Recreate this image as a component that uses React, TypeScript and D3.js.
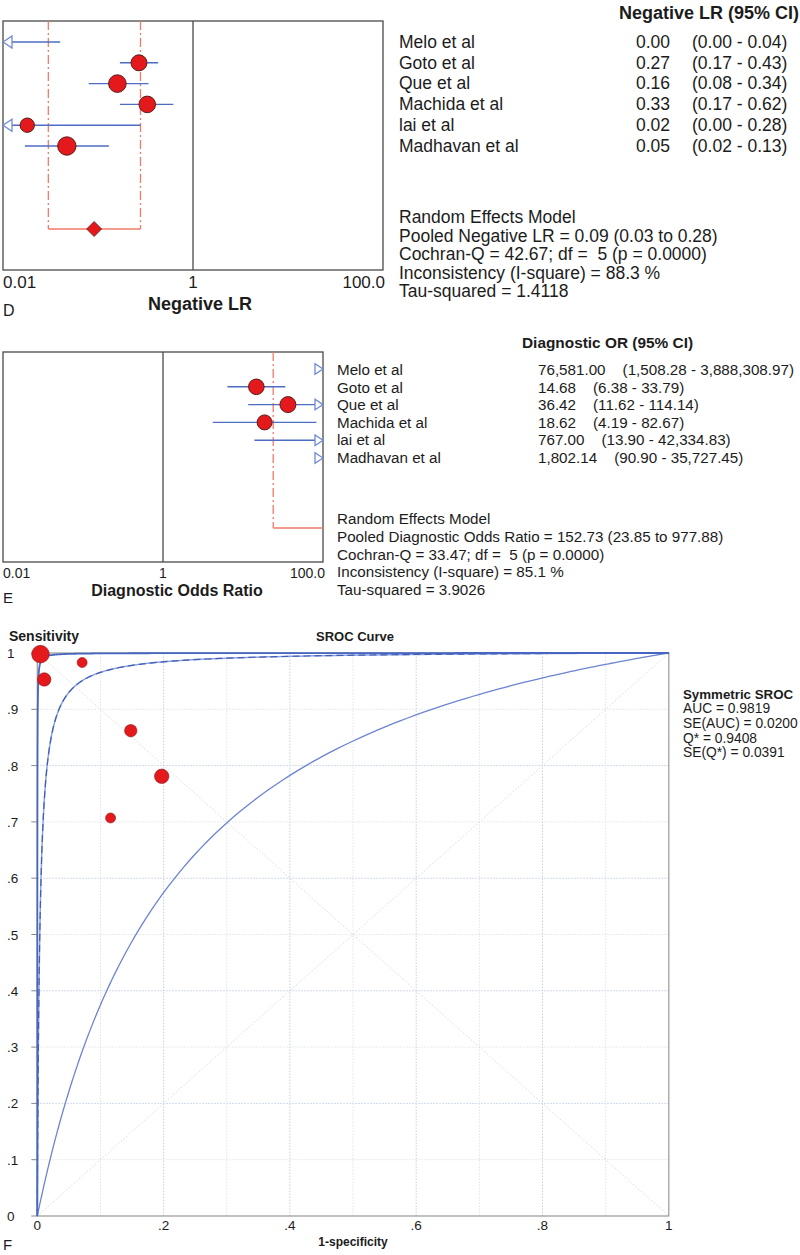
import React from "react";
import * as d3 from "d3";

// ---------- data ----------
const studies = ["Melo et al", "Goto et al", "Que et al", "Machida et al", "lai et al", "Madhavan et al"];

// Panel D: negative likelihood ratio
const nlrEst = [0.0, 0.27, 0.16, 0.33, 0.018, 0.047];
const nlrLo = [0.0, 0.17, 0.08, 0.17, 0.0, 0.017];
const nlrHi = [0.04, 0.43, 0.34, 0.62, 0.28, 0.13];
const nlrRadius = [0, 8, 8.8, 8.3, 7.2, 9.2];
const nlrValText = ["0.00", "0.27", "0.16", "0.33", "0.02", "0.05"];
const nlrCIText = ["(0.00 - 0.04)", "(0.17 - 0.43)", "(0.08 - 0.34)", "(0.17 - 0.62)", "(0.00 - 0.28)", "(0.02 - 0.13)"];
const nlrPooled = [0.091, 0.03, 0.28];
const nlrStats = [
  "Random Effects Model",
  "Pooled Negative LR = 0.09 (0.03 to 0.28)",
  "Cochran-Q = 42.67; df =  5 (p = 0.0000)",
  "Inconsistency (I-square) = 88.3 %",
  "Tau-squared = 1.4118",
];

// Panel E: diagnostic odds ratio
const dorEst = [76581.0, 14.68, 36.42, 18.62, 767.0, 1802.14];
const dorLo = [1508.28, 6.38, 11.62, 4.19, 13.9, 90.9];
const dorHi = [3888308.97, 33.79, 114.14, 82.67, 42334.83, 35727.45];
const dorRadius = [7.8, 7.8, 8, 7.5, 7.5, 7.5];
const dorValText = ["76,581.00", "14.68", "36.42", "18.62", "767.00", "1,802.14"];
const dorCIText = ["(1,508.28 - 3,888,308.97)", "(6.38 - 33.79)", "(11.62 - 114.14)", "(4.19 - 82.67)", "(13.90 - 42,334.83)", "(90.90 - 35,727.45)"];
const dorPooled = [152.73, 23.85, 977.88];
const dorStats = [
  "Random Effects Model",
  "Pooled Diagnostic Odds Ratio = 152.73 (23.85 to 977.88)",
  "Cochran-Q = 33.47; df =  5 (p = 0.0000)",
  "Inconsistency (I-square) = 85.1 %",
  "Tau-squared = 3.9026",
];

const logTicks = [0.01, 1, 100];
const logTickText = ["0.01", "1", "100.0"];

// Panel F: SROC
const srocFpr = [0.005, 0.011, 0.071, 0.148, 0.197, 0.116];
const srocTpr = [0.998, 0.953, 0.983, 0.862, 0.781, 0.707];
const srocRadius = [8.8, 6.7, 5, 6.2, 7.2, 5];
const srocQstar = 0.9408;
const srocLowerDOR = 5.4;
const srocUpperDOR = 11800;
const srocTicksY = [0, 0.1, 0.2, 0.3, 0.4, 0.5, 0.6, 0.7, 0.8, 0.9, 1];
const srocTickYText = ["0", ".1", ".2", ".3", ".4", ".5", ".6", ".7", ".8", ".9", "1"];
const srocTicksX = [0, 0.2, 0.4, 0.6, 0.8, 1];
const srocTickXText = ["0", ".2", ".4", ".6", ".8", "1"];
const srocStats = ["AUC = 0.9819", "SE(AUC) = 0.0200", "Q* = 0.9408", "SE(Q*) = 0.0391"];

// ---------- styles ----------
const FONT = "'Liberation Sans', Arial, Helvetica, sans-serif";
const TXT = "#1c1c1c";
const RED = "#e3191c";
const DOTSTROKE = "#5a1e1e";
const BLUE = "#4d6cc4";
const ARROW = "#6f8ad6";
const SALMON = "#f27a68";

type ForestProps = {
  x: d3.ScaleLogarithmic<number, number>;
  rowY: (i: number) => number;
  est: number[];
  lo: number[];
  hi: number[];
  radius: number[];
  arrowLen: number;
  arrowHalf: number;
};

function ForestRows({ x, rowY, est, lo, hi, radius, arrowLen, arrowHalf }: ForestProps) {
  const [dMin, dMax] = x.domain();
  const [r0, r1] = x.range();
  return (
    <g>
      {studies.map((s, i) => {
        const y = rowY(i);
        const leftOut = lo[i] < dMin;
        const rightOut = hi[i] > dMax;
        const xa = leftOut ? r0 + arrowLen : x(Math.min(Math.max(lo[i], dMin), dMax));
        const xb = rightOut ? r1 - arrowLen : x(Math.max(Math.min(hi[i], dMax), dMin));
        const showLine = xb > xa && !(lo[i] > dMax) && !(hi[i] < dMin);
        const showDot = est[i] >= dMin && est[i] <= dMax;
        return (
          <g key={s}>
            {showLine && <line x1={xa} x2={xb} y1={y} y2={y} stroke={BLUE} strokeWidth={1.4} />}
            {leftOut && (
              <path
                d={`M${r0},${y} L${r0 + arrowLen},${y - arrowHalf} L${r0 + arrowLen},${y + arrowHalf} Z`}
                fill="white"
                stroke={ARROW}
                strokeWidth={1.3}
              />
            )}
            {rightOut && (
              <path
                d={`M${r1},${y} L${r1 - arrowLen},${y - arrowHalf} L${r1 - arrowLen},${y + arrowHalf} Z`}
                fill="white"
                stroke={ARROW}
                strokeWidth={1.3}
              />
            )}
            {showDot && <circle cx={x(est[i])} cy={y} r={radius[i]} fill={RED} stroke={DOTSTROKE} strokeWidth={1} />}
          </g>
        );
      })}
    </g>
  );
}

export default function App() {
  // ---- Panel D ----
  const xD = d3.scaleLog().domain([0.01, 100]).range([3, 383]);
  const yD = d3.scaleLinear().domain([0, 5]).range([42, 146]);
  const boxD = { top: 21, bottom: 270 };
  const pooledYD = 229;

  // ---- Panel E ----
  const xE = d3.scaleLog().domain([0.01, 100]).range([3, 323]);
  const yE = d3.scaleLinear().domain([0, 5]).range([369, 458]);
  const boxE = { top: 352, bottom: 562 };
  const pooledYE = 528;

  // ---- Panel F ----
  const xF = d3.scaleLinear().domain([0, 1]).range([37.3, 668.8]);
  const yF = d3.scaleLinear().domain([0, 1]).range([1216, 653]);
  const centralDOR = Math.pow(srocQstar / (1 - srocQstar), 2);
  const logitGrid = d3.range(-14, 14.001, 0.05);
  const curvePts = (dor: number): [number, number][] => {
    const pts: [number, number][] = [[0, 0]];
    for (const u of logitGrid) {
      const fpr = 1 / (1 + Math.exp(-u));
      const tpr = 1 / (1 + Math.exp(-(u + Math.log(dor))));
      pts.push([fpr, tpr]);
    }
    pts.push([1, 1]);
    return pts;
  };
  const line = d3
    .line<[number, number]>()
    .x((d) => xF(d[0]))
    .y((d) => yF(d[1]));
  const gridVals = d3.range(1, 10).map((v) => v / 10);

  const dText = (x: number, y: number, s: string, size: number, bold = false, anchor = "start") => (
    <text
      x={x}
      y={y}
      fontSize={size}
      fontWeight={bold ? "bold" : "normal"}
      textAnchor={anchor as any}
      fill={TXT}
      style={{ whiteSpace: "pre" }}
    >
      {s}
    </text>
  );

  return (
    <div style={{ position: "absolute", left: 0, top: 0 }}>
      <svg width={800} height={1255} fontFamily={FONT} style={{ display: "block", background: "white" }}>
        <rect x={0} y={0} width={800} height={1255} fill="white" />

        {/* ================= Panel D ================= */}
        <rect x={xD.range()[0]} y={boxD.top} width={xD.range()[1] - xD.range()[0]} height={boxD.bottom - boxD.top} fill="none" stroke="#4a4a4a" strokeWidth={1.3} />
        <line x1={xD(1)} x2={xD(1)} y1={boxD.top} y2={boxD.bottom} stroke="#4a4a4a" strokeWidth={1.3} />
        {[nlrPooled[1], nlrPooled[2]].map((v, k) => (
          <line key={k} x1={xD(v)} x2={xD(v)} y1={boxD.top} y2={pooledYD} stroke={SALMON} strokeWidth={1.3} strokeDasharray="9,3,2,3" />
        ))}
        <line x1={xD(nlrPooled[1])} x2={xD(nlrPooled[2])} y1={pooledYD} y2={pooledYD} stroke={SALMON} strokeWidth={1.4} />
        <path
          d={`M${xD(nlrPooled[0]) - 7.5},${pooledYD} L${xD(nlrPooled[0])},${pooledYD - 7.5} L${xD(nlrPooled[0]) + 7.5},${pooledYD} L${xD(nlrPooled[0])},${pooledYD + 7.5} Z`}
          fill={RED}
          stroke={DOTSTROKE}
          strokeWidth={0.8}
        />
        <ForestRows x={xD} rowY={yD} est={nlrEst} lo={nlrLo} hi={nlrHi} radius={nlrRadius} arrowLen={9} arrowHalf={6} />
        {logTicks.map((t, k) =>
          dText(k === 2 ? xD(t) + 2 : xD(t), 288, logTickText[k], 17, false, k === 0 ? "start" : k === 2 ? "end" : "middle")
        )}
        {dText(200, 310, "Negative LR", 18, true, "middle")}
        {dText(3, 316, "D", 16)}
        {dText(799, 19, "Negative LR (95% CI)", 18, true, "end")}
        {studies.map((s, i) => (
          <g key={"dt" + i}>
            {dText(399, 48 + i * 20.7, s, 17.5)}
            {dText(636, 48 + i * 20.7, nlrValText[i], 17.5)}
            {dText(692, 48 + i * 20.7, nlrCIText[i], 17.5)}
          </g>
        ))}
        {nlrStats.map((s, i) => (
          <g key={"ds" + i}>{dText(399, 223 + i * 18.6, s, 17.5)}</g>
        ))}

        {/* ================= Panel E ================= */}
        <rect x={xE.range()[0]} y={boxE.top} width={xE.range()[1] - xE.range()[0]} height={boxE.bottom - boxE.top} fill="none" stroke="#4a4a4a" strokeWidth={1.3} />
        <line x1={xE(1)} x2={xE(1)} y1={boxE.top} y2={boxE.bottom} stroke="#4a4a4a" strokeWidth={1.3} />
        <line x1={xE(dorPooled[1])} x2={xE(dorPooled[1])} y1={boxE.top} y2={pooledYE} stroke={SALMON} strokeWidth={1.3} strokeDasharray="9,3,2,3" />
        <line x1={xE(dorPooled[1])} x2={xE(Math.min(dorPooled[2], 100))} y1={pooledYE} y2={pooledYE} stroke={SALMON} strokeWidth={1.4} />
        <ForestRows x={xE} rowY={yE} est={dorEst} lo={dorLo} hi={dorHi} radius={dorRadius} arrowLen={8} arrowHalf={5.3} />
        {logTicks.map((t, k) =>
          dText(k === 2 ? xE(t) + 2 : xE(t), 578, logTickText[k], 14, false, k === 0 ? "start" : k === 2 ? "end" : "middle")
        )}
        {dText(177, 596, "Diagnostic Odds Ratio", 16, true, "middle")}
        {dText(3, 603, "E", 15)}
        {dText(522, 348, "Diagnostic OR (95% CI)", 15.4, true)}
        {studies.map((s, i) => (
          <g key={"et" + i}>
            {dText(337, 375 + i * 17.6, s, 15.2)}
            <text x={538} y={375 + i * 17.6} fontSize={15.2} fill={TXT}>
              <tspan>{dorValText[i]}</tspan>
              <tspan dx={17}>{dorCIText[i]}</tspan>
            </text>
          </g>
        ))}
        {dorStats.map((s, i) => (
          <g key={"es" + i}>{dText(337, 524 + i * 17.8, s, 15.2)}</g>
        ))}

        {/* ================= Panel F ================= */}
        {gridVals.map((v, k) => (
          <g key={"g" + k}>
            <line x1={xF(v)} x2={xF(v)} y1={yF(0)} y2={yF(1)} stroke={k % 2 === 1 ? "#c3cfe6" : "#e0e3ea"} strokeWidth={1} strokeDasharray="1.5,1.5" />
            <line x1={xF(0)} x2={xF(1)} y1={yF(v)} y2={yF(v)} stroke={k % 2 === 1 ? "#c3cfe6" : "#e0e3ea"} strokeWidth={1} strokeDasharray="1.5,1.5" />
          </g>
        ))}
        <line x1={xF(0)} y1={yF(0)} x2={xF(1)} y2={yF(1)} stroke="#dadada" strokeWidth={1} strokeDasharray="1.5,2" />
        <line x1={xF(0)} y1={yF(1)} x2={xF(1)} y2={yF(0)} stroke="#dadada" strokeWidth={1} strokeDasharray="1.5,2" />
        <rect x={xF(0)} y={yF(1)} width={xF(1) - xF(0)} height={yF(0) - yF(1)} fill="none" stroke="#a0a0a0" strokeWidth={1.3} />
        {srocTicksY.map((t, k) => (
          <g key={"ty" + k}>
            <line x1={xF(0) - 6} x2={xF(0)} y1={yF(t)} y2={yF(t)} stroke="#888" strokeWidth={1} />
            {dText(7, yF(t) + 5, srocTickYText[k], 13.5)}
          </g>
        ))}
        {srocTicksX.map((t, k) => (
          <g key={"tx" + k}>{dText(xF(t), 1230, srocTickXText[k], 13.5, false, "middle")}</g>
        ))}
        <path d={line(curvePts(srocLowerDOR)) || ""} fill="none" stroke="#6d84d3" strokeWidth={1.3} />
        <path d={line(curvePts(centralDOR)) || ""} fill="none" stroke="#8ea2e0" strokeWidth={1.5} />
        <path d={line(curvePts(centralDOR)) || ""} fill="none" stroke="#3e5cb8" strokeWidth={1.2} strokeDasharray="7,4" />
        <path d={line(curvePts(srocUpperDOR)) || ""} fill="none" stroke="#4766c0" strokeWidth={1.8} />
        {srocFpr.map((f, i) => (
          <circle key={"p" + i} cx={xF(f)} cy={yF(srocTpr[i])} r={srocRadius[i]} fill={RED} stroke="#8a1a1a" strokeWidth={0.6} />
        ))}
        {dText(9, 641, "Sensitivity", 14, true)}
        {dText(355, 641, "SROC Curve", 13, true, "middle")}
        {dText(353, 1246, "1-specificity", 12, true, "middle")}
        {dText(3, 1250, "F", 15)}
        {dText(683, 699, "Symmetric SROC", 13.3, true)}
        {srocStats.map((s, i) => (
          <g key={"ss" + i}>{dText(683, 713 + i * 14.8, s, 13.8)}</g>
        ))}
      </svg>
    </div>
  );
}
